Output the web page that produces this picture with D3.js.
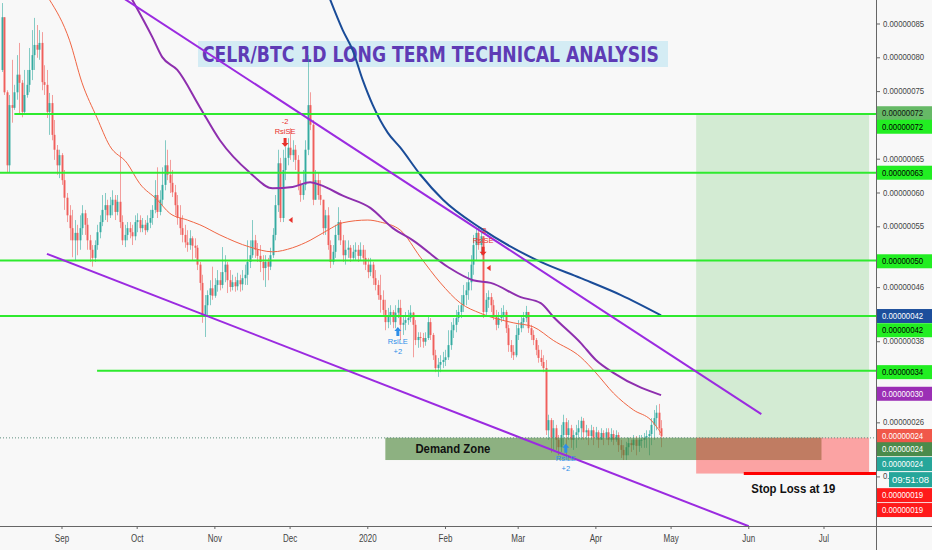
<!DOCTYPE html>
<html><head><meta charset="utf-8">
<script src="https://cdn.jsdelivr.net/npm/d3@7"></script>
<style>body{margin:0;background:#f8f8f8;} svg{display:block;font-family:"Liberation Sans",Arial,sans-serif;}</style>
</head><body><svg id="c" width="932" height="550"></svg>
<script>
// ---------- DATA (prices in satoshi, 1e-8 BTC) ----------
const firstCandle = "2019-08-08";
const firstOpen = 78.2;
const closes = [86.0,74.9,64.1,73.0,72.6,74.9,77.5,76.3,72.0,74.5,
76.0,78.2,80.4,81.9,81.2,82.2,76.4,76.0,72.0,73.3,
68.6,66.4,64.1,65.6,61.9,59.3,56.7,54.8,53.0,54.1,
53.0,54.8,57.0,55.3,53.0,51.6,50.4,52.3,54.2,55.7,
57.5,58.2,56.7,58.2,59.0,57.2,58.7,55.7,53.0,53.8,
54.8,54.2,53.6,55.7,56.0,54.8,55.3,54.5,55.6,56.3,
57.5,59.7,57.2,59.0,61.2,64.1,62.7,61.5,60.1,58.2,
56.3,54.8,53.8,52.7,52.3,53.3,52.2,51.9,49.4,46.7,
41.9,43.4,44.9,45.9,44.8,46.4,47.1,46.4,48.3,49.4,
47.1,46.1,46.8,46.2,47.1,46.5,47.4,47.9,49.8,50.8,
53.0,51.6,50.7,49.8,48.9,49.8,49.1,50.8,53.8,58.2,
64.4,56.3,63.4,65.2,66.7,65.6,66.4,64.9,61.2,59.7,
61.2,66.4,73.0,70.1,59.0,61.9,59.7,59.0,54.8,56.7,
52.3,49.8,51.3,53.8,55.7,53.0,50.8,51.6,51.9,50.4,
51.3,51.6,50.7,51.6,50.4,49.4,48.3,49.4,47.4,46.4,
44.9,44.2,42.7,40.9,41.9,42.4,40.9,42.3,43.0,40.5,
40.8,41.2,41.5,42.3,40.5,38.25,38.7,38.55,38.0,38.55,
40.9,39.0,36.0,34.1,34.6,35.0,35.3,35.7,37.5,39.7,
40.5,41.5,42.4,43.4,44.9,45.6,46.8,49.4,52.3,54.1,
52.3,53.6,42.4,44.2,44.6,43.4,41.9,40.5,41.5,41.9,
42.4,40.0,37.5,36.5,36.0,39.0,40.0,40.9,41.5,42.4,
40.0,39.0,38.25,36.8,35.6,35.0,34.1,24.9,26.4,23.8,
25.2,23.5,22.4,24.2,26.1,24.2,25.2,23.5,24.2,24.6,
25.2,26.3,24.6,24.9,24.05,24.9,23.8,24.6,23.5,24.5,
23.8,24.6,23.5,24.35,23.5,24.2,22.7,22.0,21.2,22.4,
23.0,22.7,23.5,22.6,23.5,23.5,23.8,24.05,24.35,25.7,
26.7,27.5,25.2,24.0];
const highs = [88.1,85.6,75.2,74.5,79.7,76.0,80.4,82.2,76.7,78.2,
78.2,81.45,84.1,85.9,84.85,84.1,83.8,78.9,78.2,74.8,
74.5,70.8,67.1,66.4,65.9,63.4,60.0,58.2,57.5,56.0,
55.3,56.7,58.2,57.5,56.3,53.8,52.3,53.0,55.3,56.7,
59.7,60.0,59.0,59.4,60.4,59.7,59.7,66.1,56.7,55.3,
55.7,55.7,55.3,56.7,57.0,56.7,56.3,56.0,56.7,57.5,
58.2,61.9,63.8,60.4,63.8,67.8,66.4,64.9,63.4,61.2,
59.7,58.2,56.7,55.3,54.5,54.5,53.6,53.3,52.3,49.8,
47.9,44.9,45.6,47.1,49.1,47.4,48.6,48.3,52.0,50.8,
49.8,48.6,47.9,47.6,48.2,47.9,48.6,49.4,53.0,53.0,
56.0,53.8,52.6,52.3,50.8,50.8,50.4,51.9,54.8,59.7,
66.4,65.2,66.4,66.8,68.1,69.6,67.8,67.1,65.6,61.9,
63.4,67.8,80.4,74.9,70.8,63.4,63.1,61.9,59.0,57.5,
57.9,53.0,52.3,55.3,57.9,56.0,53.8,53.0,53.0,52.3,
52.3,52.7,52.3,52.7,52.3,51.6,50.4,50.4,49.8,48.6,
47.1,47.9,45.6,44.2,43.0,43.4,42.7,43.4,44.2,44.2,
41.9,42.4,42.7,43.4,42.4,41.2,39.4,39.4,39.3,39.4,
41.8,41.5,39.3,36.8,35.6,36.0,36.5,36.8,39.7,40.9,
41.5,42.7,43.4,44.9,46.4,46.8,48.3,50.8,53.8,54.8,
54.95,54.5,53.3,45.2,45.6,45.2,44.2,42.7,42.4,43.0,
43.4,42.7,40.5,38.25,37.5,40.5,41.2,41.9,42.4,43.3,
42.4,40.5,39.7,38.55,37.5,36.8,36.0,35.3,27.2,26.7,
26.4,25.7,24.2,25.7,27.2,26.7,26.4,25.7,24.9,25.7,
26.4,26.9,26.7,25.7,25.2,25.7,25.4,25.4,24.9,25.2,
24.9,25.2,25.2,25.2,24.9,24.9,24.6,23.5,22.7,23.2,
23.8,23.5,24.2,24.05,24.2,24.2,24.5,24.9,24.9,26.7,
27.9,28.6,28.8,26.4];
const lows = [77.9,74.5,63.0,63.0,70.4,72.3,73.8,71.8,71.2,71.7,
74.1,74.9,76.7,78.2,80.0,79.7,75.2,74.5,71.1,68.6,
67.8,64.9,62.7,62.2,61.2,57.5,55.7,53.0,50.5,50.1,
50.8,51.6,53.8,53.8,51.6,49.8,49.1,49.8,51.6,53.3,
55.1,56.0,55.7,56.3,56.7,56.0,56.7,54.8,52.3,52.0,
53.0,53.3,52.3,53.0,54.2,54.2,54.2,53.8,54.2,54.8,
55.3,57.0,56.3,56.7,58.2,60.4,61.9,60.0,59.4,56.7,
55.3,53.8,52.7,51.9,51.3,51.6,50.1,50.4,48.6,45.6,
40.8,38.7,41.9,43.4,44.2,44.5,45.4,45.6,45.9,46.8,
45.2,45.4,45.6,45.4,45.6,45.4,45.6,46.4,46.4,48.9,
50.4,50.4,49.8,48.3,47.1,46.1,47.1,48.6,50.4,53.0,
57.2,55.7,55.7,61.9,64.1,64.9,64.6,63.4,60.4,58.7,
59.0,60.4,65.6,69.3,58.2,59.0,59.0,58.2,53.8,53.8,
51.6,48.9,49.4,50.4,53.0,52.3,49.8,49.4,50.4,49.8,
50.1,50.1,49.8,50.1,49.4,48.6,47.4,47.7,46.4,45.6,
44.2,42.3,41.9,39.7,40.0,40.5,40.0,40.0,41.5,38.25,
39.0,39.7,40.5,40.9,35.7,37.5,37.1,37.2,37.1,37.4,
38.25,38.25,35.3,33.5,32.8,33.5,34.1,34.4,35.3,36.8,
38.55,39.4,40.9,41.5,42.4,43.4,44.2,45.6,47.9,50.1,
51.6,50.8,41.5,41.9,43.0,42.4,41.2,39.7,40.0,40.9,
41.2,39.3,36.5,35.6,35.3,35.7,38.25,39.4,40.0,40.9,
39.3,38.25,37.5,36.0,34.9,34.4,33.5,24.2,23.5,21.6,
22.0,22.0,21.2,21.7,22.7,21.2,23.5,22.3,22.0,22.3,
23.5,23.5,23.5,23.5,22.7,23.5,22.7,23.5,22.3,23.5,
22.7,23.5,22.7,23.2,22.7,23.2,21.7,20.8,20.5,20.5,
21.2,21.7,22.0,21.2,21.7,22.3,22.3,22.3,21.2,22.7,
23.5,24.9,24.2,22.4];

// moving averages, sampled at candle indices
const ma50Idx = [19,27,32,38,43,50,55,62,67,74,79,87,99,108,116,123,130,136,146,151,159,167,175,183,191,204,212,220,231,237,244,252,259,263];
const ma50Val = [88.6,82.6,76.3,71.1,67.0,64.4,61.4,59.0,57.0,56.0,55.3,53.8,52.0,51.3,51.9,53.0,54.5,55.6,56.0,55.7,54.5,50.5,46.7,43.7,42.2,40.8,40.2,38.2,35.7,33.4,30.4,27.9,26.4,24.5];
const ma100Idx = [52,60,64,70,79,87,99,108,116,123,127,136,147,156,164,178,188,195,207,215,220,231,237,244,255,263];
const ma100Val = [88.6,83.1,80.1,78.2,72.7,67.8,63.0,60.7,60.9,61.6,61.2,59.6,57.8,54.8,53.0,49.05,47.1,46.7,44.6,43.7,41.7,37.8,35.3,33.4,31.2,30.1];
const ma200Idx = [131,136,140,144,148,154,159,167,176,191,215,231,247,263];
const ma200Val = [88.6,84.1,81.1,76.7,73.0,68.9,66.7,62.7,59.0,54.8,49.8,47.4,44.9,41.9];

// axes
const priceTicks = [85,80,75,70,65,60,55,50,46,42,38,34,30,26,22,18];
const monthDates = ["2019-09-01","2019-10-01","2019-11-01","2019-12-01","2020-01-01","2020-02-01","2020-03-01","2020-04-01","2020-05-01","2020-06-01","2020-07-01"];
const monthLabels = ["Sep","Oct","Nov","Dec","2020","Feb","Mar","Apr","May","Jun","Jul"];

// drawings
const levelPrices = [71.7,63.0,50.0,41.8,33.7];
const levelStarts = ["2019-08-13","2019-08-07","2019-08-07","2019-08-07","2019-09-15"];
const upperTrend = [["2019-09-26",88.7],["2020-06-06",27.3]];
const lowerTrend = [["2019-08-26",51.0],["2020-06-01",10.7]];
const demandDates = ["2020-01-08","2020-06-30"];
const demandPrices = [20.5,23.8];
const positionDates = ["2020-05-11","2020-07-19"];
const entryPrice = 23.8, targetPrice = 71.7, stopPrice = 18.5;
const stopLineStart = "2020-05-30";
const demandLabelAt = ["2020-01-20",22.1];
const stopLabelAt = ["2020-06-02",16.1];

// strategy signals
const sigIdx = [113,192,158,225];
const sigType = ["SE","SE","LE","LE"];
const sigPrice = [67.4,51.3,39.6,22.3];
const exitIdx = [114,193];
const exitPrice = [56.0,48.9];

// price-scale tags
const tagAt = [71.8,69.8,63.0,49.9,41.8,39.7,33.5,30.3,24.05,22.1,19.9,15.3,13.1];
const tagValue = [72,72,63,50,42,42,34,30,24,24,24,19,19];
const tagBg = ["#66b966","#22ee22","#22ee22","#22ee22","#1c4f9c","#22ee22","#22ee22","#9b2fb5","#f0584a","#4b8b4b","#26a69a","#ff1a1a","#ff1a1a"];
const tagFg = ["#111","#000","#000","#000","#fff","#000","#000","#fff","#fff","#fff","#fff","#fff","#fff"];
const countdownAt = 17.6, countdownText = "09:51:08";

const title = "CELR/BTC 1D LONG TERM TECHNICAL ANALYSIS";

// ---------- DRAW ----------
const PW = 876, PH = 526;
const svg = d3.select("#c");
const parse = s => new Date(s + "T00:00:00Z");
const t0 = parse(firstCandle).getTime();
const dateAt = i => new Date(t0 + i * 864e5);

const x = d3.scaleUtc().domain([new Date(Date.UTC(2019,7,7,6,30)), new Date(Date.UTC(2020,6,21,18))]).range([0, PW]);
const y = d3.scaleLinear().domain([10.74, 88.55]).range([PH, 0]);
const fmt = v => (v / 1e8).toFixed(8);

svg.append("rect").attr("width", 932).attr("height", 550).attr("fill", "#f8f8f8");
const defs = svg.append("defs");
defs.append("clipPath").attr("id", "pc").append("rect").attr("width", PW).attr("height", PH);
const g = svg.append("g").attr("clip-path", "url(#pc)");

// title (under marks)
const tg = g.append("g");
tg.append("rect").attr("x", 198).attr("y", 41).attr("width", 470).attr("height", 26).attr("fill", "#cfeaf3").attr("opacity", 0.9);
tg.append("text").attr("x", 202).attr("y", 62).attr("font-family", "DejaVu Sans, sans-serif").attr("font-weight", "bold")
  .attr("font-size", 22).attr("fill", "#5e3bb5").attr("textLength", 457).attr("lengthAdjust", "spacingAndGlyphs").text(title);

// candles
const candles = closes.map((c, i) => {
  const o = i ? closes[i - 1] : firstOpen;
  return {d: dateAt(i), o, c, h: Math.max(highs[i], o, c), l: Math.min(lows[i], o, c)};
});
const cg = g.append("g");
candles.forEach(k => {
  const col = k.c >= k.o ? "#26a69a" : "#ef5350";
  const cx = Math.round(x(k.d)) + 0.5;
  cg.append("line").attr("x1", cx).attr("x2", cx).attr("y1", y(k.h)).attr("y2", y(k.l)).attr("stroke", col).attr("stroke-opacity", 0.55).attr("stroke-width", 1);
  const top = y(Math.max(k.o, k.c)), bot = y(Math.min(k.o, k.c));
  cg.append("rect").attr("x", cx - 1).attr("y", top).attr("width", 2).attr("height", Math.max(1, bot - top)).attr("fill", col).attr("fill-opacity", 0.85);
});

// moving averages
const maLine = d3.line().x(d => x(dateAt(d[0]))).y(d => y(d[1])).curve(d3.curveMonotoneX);
const mas = [[ma50Idx, ma50Val, "#f06543", 1], [ma100Idx, ma100Val, "#8e2fae", 2], [ma200Idx, ma200Val, "#1a4c98", 2]];
mas.forEach(([idx, val, col, w]) => {
  g.append("path").attr("d", maLine(idx.map((v, j) => [v, val[j]]))).attr("fill", "none").attr("stroke", col).attr("stroke-width", w);
});

// demand zone
g.append("rect").attr("x", x(parse(demandDates[0]))).attr("width", x(parse(demandDates[1])) - x(parse(demandDates[0])))
  .attr("y", y(demandPrices[1])).attr("height", y(demandPrices[0]) - y(demandPrices[1])).attr("fill", "rgb(70,130,50)").attr("fill-opacity", 0.6);

// long position tool
const px0 = x(parse(positionDates[0])), px1 = x(parse(positionDates[1]));
g.append("rect").attr("x", px0).attr("width", px1 - px0).attr("y", y(targetPrice)).attr("height", y(entryPrice) - y(targetPrice)).attr("fill", "rgb(0,160,0)").attr("fill-opacity", 0.15);
g.append("rect").attr("x", px0).attr("width", px1 - px0).attr("y", y(entryPrice)).attr("height", y(stopPrice) - y(entryPrice)).attr("fill", "rgb(255,60,60)").attr("fill-opacity", 0.45);

// horizontal levels
levelPrices.forEach((p, j) => {
  g.append("line").attr("x1", x(parse(levelStarts[j]))).attr("x2", PW).attr("y1", y(p)).attr("y2", y(p)).attr("stroke", "#2eea2e").attr("stroke-width", 2);
});

// trend lines
[upperTrend, lowerTrend].forEach(t => {
  g.append("line").attr("x1", x(parse(t[0][0]))).attr("y1", y(t[0][1])).attr("x2", x(parse(t[1][0]))).attr("y2", y(t[1][1]))
    .attr("stroke", "#9b2be0").attr("stroke-width", 2);
});

// last price dotted line
const lastP = closes[closes.length - 1];
g.append("line").attr("x1", 0).attr("x2", PW).attr("y1", y(lastP) + 1.5).attr("y2", y(lastP) + 1.5).attr("stroke", "#5f8f7f").attr("stroke-width", 1).attr("stroke-dasharray", "1,2");

// stop line
g.append("line").attr("x1", x(parse(stopLineStart))).attr("x2", PW).attr("y1", y(stopPrice)).attr("y2", y(stopPrice)).attr("stroke", "#ff0000").attr("stroke-width", 3);

// texts
g.append("text").attr("x", x(parse(demandLabelAt[0]))).attr("y", y(demandLabelAt[1])).attr("dominant-baseline", "middle")
  .attr("font-weight", "bold").attr("font-size", 12.5).attr("fill", "#111").attr("textLength", 75).attr("lengthAdjust", "spacingAndGlyphs").text("Demand Zone");
g.append("text").attr("x", x(parse(stopLabelAt[0]))).attr("y", y(stopLabelAt[1])).attr("dominant-baseline", "middle")
  .attr("font-weight", "bold").attr("font-size", 12.5).attr("fill", "#111").attr("textLength", 84).attr("lengthAdjust", "spacingAndGlyphs").text("Stop Loss at 19");

// signals
sigIdx.forEach((ci, j) => {
  const cx = x(dateAt(ci)), cy = y(sigPrice[j]);
  const se = sigType[j] === "SE";
  const col = se ? "#e8302a" : "#2d8ee8";
  const dir = se ? 1 : -1;
  const arrow = `M${cx-1.5},${cy-5*dir} L${cx+1.5},${cy-5*dir} L${cx+1.5},${cy} L${cx+3.5},${cy} L${cx},${cy+4*dir} L${cx-3.5},${cy} L${cx-1.5},${cy} Z`;
  g.append("path").attr("d", arrow).attr("fill", col);
  const t1 = se ? "RsiSE" : "RsiLE", t2 = se ? "-2" : "+2";
  g.append("text").attr("x", cx).attr("y", cy - 11 * dir).attr("text-anchor", "middle").attr("dominant-baseline", "middle").attr("font-size", 7.5).attr("fill", col).text(t1);
  g.append("text").attr("x", cx).attr("y", cy - 21 * dir).attr("text-anchor", "middle").attr("dominant-baseline", "middle").attr("font-size", 7.5).attr("fill", col).text(t2);
});
exitIdx.forEach((ci, j) => {
  const cx = x(dateAt(ci)) + 1, cy = y(exitPrice[j]);
  g.append("path").attr("d", `M${cx},${cy} L${cx+4},${cy-3} L${cx+4},${cy+3} Z`).attr("fill", "#e8302a");
});

// axes
svg.append("line").attr("x1", 0).attr("x2", 932).attr("y1", PH + 0.5).attr("y2", PH + 0.5).attr("stroke", "#666");
svg.append("line").attr("x1", PW + 0.5).attr("x2", PW + 0.5).attr("y1", 0).attr("y2", 550).attr("stroke", "#666");

const condense = (sel, f) => sel.each(function () { const L = this.getComputedTextLength(); d3.select(this).attr("textLength", L * f).attr("lengthAdjust", "spacingAndGlyphs"); });

monthDates.forEach((d, j) => {
  const mx = x(parse(d));
  svg.append("line").attr("x1", mx).attr("x2", mx).attr("y1", PH).attr("y2", PH + 3).attr("stroke", "#666");
  const t = svg.append("text").attr("x", mx).attr("y", 539).attr("text-anchor", "middle").attr("dominant-baseline", "middle")
    .attr("font-size", 10).attr("fill", "#444").text(monthLabels[j]);
  condense(t, 0.8);
});

const ax = svg.append("g");
const tagYs = tagAt.map(p => y(p));
const cdy = y(countdownAt);
priceTicks.forEach(p => {
  const ty = y(p);
  ax.append("line").attr("x1", PW).attr("x2", PW + 4).attr("y1", ty).attr("y2", ty).attr("stroke", "#666");
  if (tagYs.some(v => Math.abs(v - ty) < 10)) return;          // covered by a price tag
  const partly = Math.abs(cdy - ty) < 10;                        // mostly covered by the countdown box
  const label = partly ? fmt(p).slice(0, 2) : fmt(p);
  const t = ax.append("text").attr("x", 883).attr("y", ty).attr("dominant-baseline", "middle").attr("font-size", 9.5).attr("fill", "#444").text(label);
  condense(t, 0.82);
});

tagAt.forEach((p, j) => {
  const ty = y(p);
  ax.append("rect").attr("x", PW + 1).attr("y", ty - 7).attr("width", 932 - PW - 1).attr("height", 14).attr("fill", tagBg[j]);
  const t = ax.append("text").attr("x", 882).attr("y", ty + 0.5).attr("dominant-baseline", "middle").attr("font-size", 9.5).attr("fill", tagFg[j]).text(fmt(tagValue[j]));
  condense(t, 0.82);
});
ax.append("rect").attr("x", 889).attr("y", cdy - 7.5).attr("width", 43).attr("height", 15).attr("fill", "#26a69a");
ax.append("text").attr("x", 910.5).attr("y", cdy + 0.5).attr("text-anchor", "middle").attr("dominant-baseline", "middle").attr("font-size", 9.5).attr("fill", "#fff").text(countdownText);
</script></body></html>
